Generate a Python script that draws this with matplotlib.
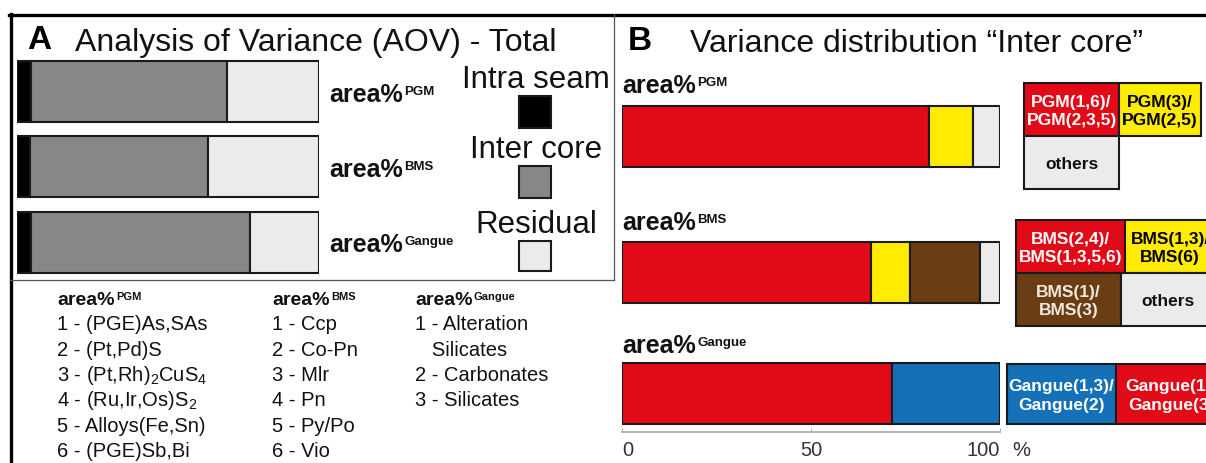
import matplotlib
matplotlib.use("Agg")
import matplotlib.pyplot as plt
from matplotlib.lines import Line2D
from matplotlib.patches import Rectangle

plt.rcParams["font.family"] = ["Liberation Sans", "DejaVu Sans"]
plt.rcParams["mathtext.fontset"] = "custom"
plt.rcParams["mathtext.rm"] = "Liberation Sans"
plt.rcParams["mathtext.it"] = "Liberation Sans"

# --- data -------------------------------------------------------------------
groups = ["PGM", "BMS", "Gangue"]

# panel A: analysis of variance, % of total
intra_seam = [4.6, 4.2, 4.8]
inter_core = [65.1, 59.1, 72.5]
residual = [30.3, 36.7, 22.7]

# panel B: split of the inter core variance
pgm_parts = [81.2, 11.6, 7.2]
pgm_colors = ["#E30A17", "#FFEC00", "#EBEBEB"]
bms_parts = [66.0, 10.2, 18.5, 5.3]
bms_colors = ["#E30A17", "#FFEC00", "#6A3D14", "#EBEBEB"]
gangue_parts = [71.5, 28.5]
gangue_colors = ["#E30A17", "#1471B8"]

pgm_keys = ["PGM(1,6)/\nPGM(2,3,5)", "PGM(3)/\nPGM(2,5)", "others"]
bms_keys = ["BMS(2,4)/\nBMS(1,3,5,6)", "BMS(1,3)/\nBMS(6)", "BMS(1)/\nBMS(3)", "others"]
gangue_keys = ["Gangue(1,3)/\nGangue(2)", "Gangue(1)/\nGangue(3)"]

pgm_list = ["1 - (PGE)As,SAs", "2 - (Pt,Pd)S", "3 - (Pt,Rh)$_2$CuS$_4$",
            "4 - (Ru,Ir,Os)S$_2$", "5 - Alloys(Fe,Sn)", "6 - (PGE)Sb,Bi"]
bms_list = ["1 - Ccp", "2 - Co-Pn", "3 - Mlr", "4 - Pn", "5 - Py/Po", "6 - Vio"]
gangue_list = ["1 - Alteration", "   Silicates", "2 - Carbonates", "3 - Silicates"]

W, H = 1206, 464
fig = plt.figure(figsize=(W / 100, H / 100), dpi=100)

# full-figure canvas in pixel units for frames, texts and key boxes
canvas = fig.add_axes([0, 0, 1, 1])
canvas.set_xlim(0, W)
canvas.set_ylim(H, 0)
canvas.axis("off")


def px_axes(x0, y0, x1, y1):
    ax = fig.add_axes([x0 / W, 1 - y1 / H, (x1 - x0) / W, (y1 - y0) / H])
    ax.patch.set_visible(False)
    return ax


def area_label(x, y, sup, size, supsize, frac=0.49):
    t = canvas.text(x, y, "area%", fontsize=size, fontweight="bold", va="baseline",
                    color="#111111")
    canvas.annotate(sup, xy=(1, frac), xycoords=t, xytext=(1, 0),
                    textcoords="offset points", fontsize=supsize, va="baseline",
                    fontweight="bold", color="#111111")


# frames
canvas.add_line(Line2D([9, W], [15.5, 15.5], color="black", lw=2.4))
canvas.add_line(Line2D([10.5, 10.5], [15, H], color="black", lw=2.4))
canvas.add_line(Line2D([614, 614], [15, 281], color="#555555", lw=0.9))
canvas.add_line(Line2D([10, 614], [281, 281], color="#555555", lw=0.9))

# ---- panel A ----
canvas.text(27, 49, "A", fontsize=24, fontweight="bold", va="baseline")
canvas.text(75, 51, "Analysis of Variance (AOV) - Total", fontsize=23, va="baseline",
            color="#111111")

axA = px_axes(17, 55, 319, 281)
ya = [92, 167.5, 243.5]
lefts = [0, 0, 0]
for vals, col in [(intra_seam, "black"), (inter_core, "#878787"), (residual, "#EBEBEB")]:
    axA.barh(ya, vals, left=lefts, height=61, color=col, edgecolor="#1a1a1a", lw=1.5)
    lefts = [l + v for l, v in zip(lefts, vals)]
axA.set_xlim(0, 100)
axA.set_ylim(281, 55)
axA.axis("off")

for y, g in zip([102, 177, 252], groups):
    area_label(329, y, g, 18, 9.5)

for y, name, col in [(80, "Intra seam", "black"), (150, "Inter core", "#878787"),
                     (225, "Residual", "#EBEBEB")]:
    canvas.text(536, y, name, fontsize=22.5, ha="center", va="center", color="#111111")
    canvas.add_patch(Rectangle((519, y + 17), 32, 32 if col != "#EBEBEB" else 30,
                               facecolor=col, edgecolor="#1a1a1a", lw=1.5))

# list of components below panel A
cols = [(57, "PGM", pgm_list), (272, "BMS", bms_list), (415, "Gangue", gangue_list)]
for x, g, items in cols:
    area_label(x, 305, g, 14, 8, frac=0.5)
    for i, s in enumerate(items):
        canvas.text(x, 325 + 25.3 * i, s, fontsize=14.5, va="center", color="#111111")

# ---- panel B ----
canvas.text(628, 50, "B", fontsize=24, fontweight="bold", va="baseline")
canvas.text(690, 52, "Variance distribution \u201cInter core\u201d", fontsize=23,
            va="baseline", color="#111111")

axB = px_axes(622, 60, 1000, 433)
for yc, parts, colors in [(137, pgm_parts, pgm_colors), (273.5, bms_parts, bms_colors),
                          (394.5, gangue_parts, gangue_colors)]:
    left = 0
    for v, c in zip(parts, colors):
        axB.barh(yc, v, left=left, height=61, color=c, edgecolor="#1a1a1a", lw=1.5)
        left += v
axB.set_xlim(0, 100)
axB.set_ylim(433, 60)
for s in ["top", "left", "right"]:
    axB.spines[s].set_visible(False)
axB.spines["bottom"].set_color("#b5b5b5")
axB.spines["bottom"].set_linewidth(1.5)
axB.set_yticks([])
axB.set_xticks([0, 50, 100])
axB.tick_params(axis="x", direction="in", length=3, color="#b5b5b5", labelsize=14.5,
                labelcolor="#333333", pad=6)
labs = axB.get_xticklabels()
labs[0].set_ha("left")
labs[-1].set_ha("right")
canvas.text(1012, 451, "%", fontsize=14.5, color="#333333", va="center")

for y, g in zip([93, 230, 353], groups):
    area_label(622, y, g, 18, 9.5)


def key_cell(x0, y0, x1, y1, color, label, tcolor):
    canvas.add_patch(Rectangle((x0, y0), x1 - x0, y1 - y0, facecolor=color,
                               edgecolor="#1a1a1a", lw=1.5, clip_on=False))
    canvas.text((x0 + x1) / 2, (y0 + y1) / 2 + 1, label, ha="center", va="center",
                fontsize=12.5, fontweight="bold", color=tcolor, linespacing=1.3)


key_cell(1024, 84, 1119, 137, pgm_colors[0], pgm_keys[0], "white")
key_cell(1119, 84, 1201, 137, pgm_colors[1], pgm_keys[1], "black")
key_cell(1024, 137, 1119, 190, pgm_colors[2], pgm_keys[2], "#111111")

key_cell(1016, 221, 1125, 274, bms_colors[0], bms_keys[0], "white")
key_cell(1125, 221, 1215, 274, bms_colors[1], bms_keys[1], "black")
key_cell(1016, 274, 1121, 327, bms_colors[2], bms_keys[2], "#F2E8DE")
key_cell(1121, 274, 1215, 327, bms_colors[3], bms_keys[3], "#111111")

key_cell(1007, 365, 1116, 425, gangue_colors[1], gangue_keys[0], "white")
key_cell(1116, 365, 1226, 425, gangue_colors[0], gangue_keys[1], "white")

fig.savefig("out.png", dpi=100)
